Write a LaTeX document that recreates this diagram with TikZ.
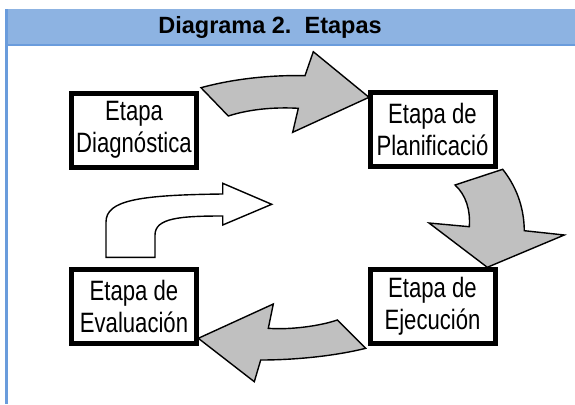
\documentclass[tikz,border=0pt]{standalone}
\usepackage{fontspec}
\setmainfont{Liberation Sans}
\newfontfamily\narrowsf[FakeStretch=0.79]{Liberation Sans}
\definecolor{headblue}{HTML}{8DB3E2}
\definecolor{headline}{HTML}{6A9CDC}
\definecolor{arrowgray}{HTML}{C0C0C0}

\begin{document}
\begin{tikzpicture}[x=1pt, y=-1pt,
  stagebox/.style={draw, line width=5pt, fill=white, minimum width=125pt, minimum height=74pt,
    inner sep=0pt, align=center, font=\narrowsf\fontsize{28}{32}\selectfont},
  blockarrow/.style={draw, line width=1.4pt, fill=arrowgray, line join=miter},
  openarrow/.style={draw, line width=1.4pt, fill=white, line join=miter}]
\useasboundingbox (0,0) rectangle (575,404);
% Header band
\fill[headblue] (5,9) rectangle (575,46);
\draw[headline, line width=2pt] (5,45) -- (575,45);
\fill[headline] (5,9) rectangle (8,404);
\node[font=\bfseries\fontsize{23.5}{28}\selectfont] (title) at (270,27.5) {Diagrama 2.\ \ Etapas};
% Stages
\node[stagebox] (diag) at (134,130) {Etapa\\Diagnóstica};
\node[stagebox] (plan) at (432.5,129.5) {Etapa de\\Planificació};
\node[stagebox] (ejec) at (432.5,306.3) {Etapa de\\Ejecución};
\node[stagebox] (eval) at (134,306.5) {Etapa de\\Evaluación};
% Diagnostica -> Planificacion
\draw[blockarrow] (201,87.7) .. controls (240,77) and (280,75) .. (305,75.7) -- (313.3,51.7)
  -- (369,97.3) -- (292.7,132.3) -- (298.3,108.3) .. controls (275,107) and (250,109) .. (228.3,116) -- cycle;
% Planificacion -> Ejecucion
\draw[blockarrow] (455,185) -- (502.7,169.3) .. controls (515,185) and (524,205) .. (524.3,230.7)
  -- (564.3,235) -- (487.3,267.3) -- (429,223) -- (469.3,226.7) .. controls (470.5,210) and (466,195) .. (455,185) -- cycle;
% Ejecucion -> Evaluacion
\draw[blockarrow] (198.3,338.3) -- (273.3,304) -- (268.3,328.3) .. controls (290,330) and (320,326) .. (337.3,320)
  -- (365.7,348.3) .. controls (335,356) and (295,360) .. (260.7,360) -- (254.3,381.7) -- cycle;
% Evaluacion -> back
\draw[openarrow] (106,257.3) -- (106,222) .. controls (106,200) and (140,195) .. (222.7,194) -- (222.7,183.3)
  -- (271.7,204.3) -- (222.7,225) -- (222.7,216) .. controls (180,216) and (155,218) .. (155,235) -- (155,257.3) -- cycle;
\end{tikzpicture}
\end{document}
